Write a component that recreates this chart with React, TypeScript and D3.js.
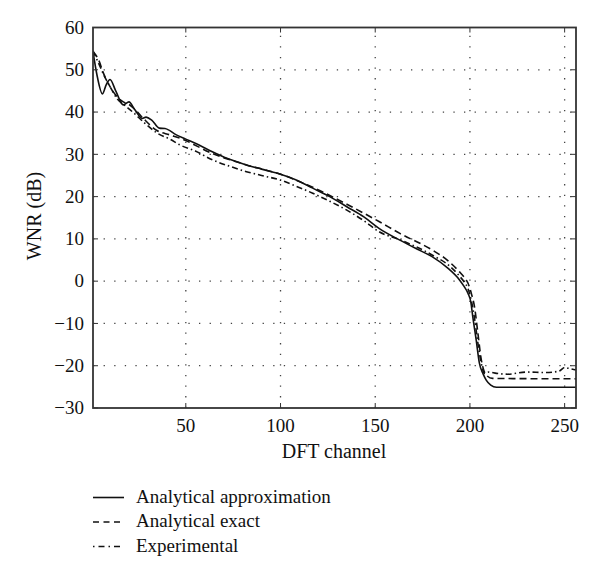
import * as d3 from "d3";

// channel / WNR (dB) pairs
const approxCh = [1, 3, 6, 8, 10, 13, 17, 20, 23, 27, 29, 32, 36, 39, 45, 50, 57, 64, 72, 82, 90, 100, 108, 117, 126, 135, 144, 152, 163, 172, 180, 188, 194.5, 197, 199, 200.5, 201.5, 203.3, 205, 207, 208.6, 211, 214, 256];
const approxDb = [54.3, 49, 44.3, 46.5, 47.7, 45, 41.7, 42.4, 40.6, 38.5, 38.8, 38.1, 36.2, 36.1, 34.6, 33.6, 32.2, 30.6, 29, 27.5, 26.5, 25.3, 24, 22, 20, 17.6, 15.2, 12.5, 9.7, 7.6, 5.8, 3.2, 0.3, -1.3, -2.9, -5, -8.4, -13.9, -19.4, -22, -23.4, -24.6, -25.1, -25.1];

const exactCh = [1, 4, 6.5, 10, 14, 17, 20, 23, 28, 34.5, 41.6, 47, 64, 82, 100, 117, 135, 152, 163, 180, 188, 194.5, 197, 199, 200.8, 202.4, 204.2, 206, 207.5, 208.6, 212, 256];
const exactDb = [54.3, 52.3, 49.2, 46, 43.5, 42.4, 41.8, 40.7, 38.3, 35.7, 34.6, 33.8, 30.2, 27.5, 25.3, 22.2, 18.2, 14.1, 11.3, 7.4, 5, 2.2, 0.9, -0.5, -3, -6, -12.3, -18.6, -21.3, -22.2, -23, -23.1];

const expCh = [1, 4, 7, 10, 14, 18, 22, 28, 35, 42, 47, 55, 64, 73, 82, 90, 100, 108, 117, 126, 135, 144, 152, 163, 180, 190, 194.5, 197, 199, 200.7, 202.5, 204, 205.8, 207.7, 210, 214, 220, 230, 240, 247, 250, 252, 256];
const expDb = [54.5, 51.5, 48.5, 46, 43, 41.5, 40, 37.5, 35, 33.5, 32.2, 30.8, 28.7, 27.2, 25.9, 25, 23.9, 22.5, 20.8, 18.9, 16.8, 14.3, 11.7, 9.8, 6.2, 3.3, 1.2, -0.2, -1.8, -4.5, -9, -14, -19, -21.8, -21.5, -21.8, -22, -21.5, -21.6, -21.3, -20.4, -20.6, -21];

const xTicks = [50, 100, 150, 200, 250];
const yTicks = [-30, -20, -10, 0, 10, 20, 30, 40, 50, 60];

const seriesNames = ["Analytical approximation", "Analytical exact", "Experimental"];

const W = 600;
const H = 578;
const left = 93, right = 576, top = 27.5, bottom = 408;
const font = "Liberation Serif, Times New Roman, DejaVu Serif, serif";

const dashes = ["none", "7,4", "6,3,1.5,3"];

export default function App() {
  const x = d3.scaleLinear().domain([1, 256]).range([left, right]);
  const y = d3.scaleLinear().domain([-30, 60]).range([bottom, top]);

  const line = d3
    .line<[number, number]>()
    .x((d) => x(d[0]))
    .y((d) => y(d[1]))
    .curve(d3.curveMonotoneX);

  const series = [
    d3.zip(approxCh, approxDb) as [number, number][],
    d3.zip(exactCh, exactDb) as [number, number][],
    d3.zip(expCh, expDb) as [number, number][],
  ];

  const axisColor = "#333";

  return (
    <svg
      width={W}
      height={H}
      style={{ position: "absolute", left: 0, top: 0, background: "#fff" }}
    >
      <defs>
        <clipPath id="plot">
          <rect x={left} y={top} width={right - left} height={bottom - top} />
        </clipPath>
      </defs>

      {/* grid */}
      <g stroke="#444" strokeWidth={1.3} strokeDasharray="1.3,9.3">
        {xTicks.map((t) => (
          <line key={"gx" + t} x1={x(t)} x2={x(t)} y1={bottom} y2={top} />
        ))}
        {yTicks.slice(1, -1).map((t) => (
          <line key={"gy" + t} x1={left} x2={right} y1={y(t)} y2={y(t)} />
        ))}
      </g>

      {/* curves */}
      <g clipPath="url(#plot)" fill="none" stroke="#111" strokeWidth={1.6}>
        {series.map((s, i) => (
          <path key={i} d={line(s) ?? ""} strokeDasharray={dashes[i]} />
        ))}
      </g>

      {/* ticks */}
      <g stroke={axisColor} strokeWidth={1}>
        {xTicks.map((t) => (
          <g key={"tx" + t}>
            <line x1={x(t)} x2={x(t)} y1={bottom} y2={bottom - 5} />
            <line x1={x(t)} x2={x(t)} y1={top} y2={top + 5} />
          </g>
        ))}
        {yTicks.map((t) => (
          <g key={"ty" + t}>
            <line x1={left} x2={left + 5} y1={y(t)} y2={y(t)} />
            <line x1={right} x2={right - 5} y1={y(t)} y2={y(t)} />
          </g>
        ))}
      </g>

      {/* box */}
      <rect
        x={left}
        y={top}
        width={right - left}
        height={bottom - top}
        fill="none"
        stroke={axisColor}
        strokeWidth={1.8}
      />

      {/* tick labels */}
      <g fontSize={19} fill="#111" fontFamily={font}>
        {xTicks.map((t) => (
          <text key={"lx" + t} x={x(t)} y={432} textAnchor="middle">
            {t}
          </text>
        ))}
        {yTicks.map((t) => (
          <text key={"ly" + t} x={84} y={y(t)} dy="0.33em" textAnchor="end">
            {t < 0 ? "\u2212" + Math.abs(t) : t}
          </text>
        ))}
      </g>

      <text x={334} y={458} fontSize={20} textAnchor="middle" fill="#111" fontFamily={font}>
        DFT channel
      </text>
      <text
        transform={`translate(41,216) rotate(-90)`}
        fontSize={20}
        textAnchor="middle"
        fill="#111"
        fontFamily={font}
      >
        WNR (dB)
      </text>

      {/* legend */}
      <g fontSize={19} fill="#111" fontFamily={font}>
        {seriesNames.map((name, i) => {
          const ly = 497.5 + i * 24.5;
          return (
            <g key={name}>
              <line
                x1={93}
                x2={124}
                y1={ly}
                y2={ly}
                stroke="#111"
                strokeWidth={1.6}
                strokeDasharray={i === 1 ? "6,4.5" : i === 2 ? "1.5,4,6,4" : "none"}
              />
              <text x={136} y={ly + 5}>
                {name}
              </text>
            </g>
          );
        })}
      </g>
    </svg>
  );
}
